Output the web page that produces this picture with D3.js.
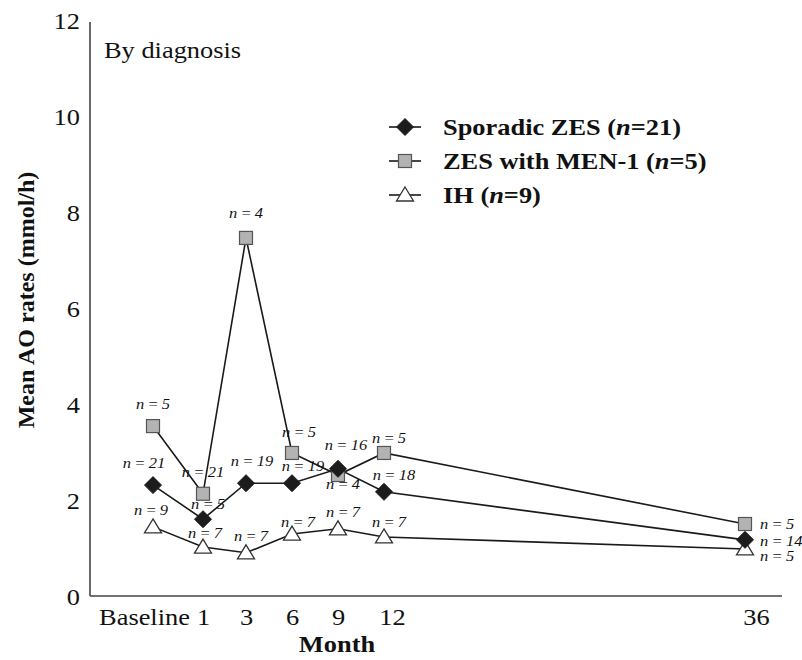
<!DOCTYPE html>
<html>
<head>
<meta charset="utf-8">
<script src="https://cdn.jsdelivr.net/npm/d3@7"></script>
<style>
  body { margin: 0; background: #fff; }
  svg { display: block; font-family: "Liberation Serif", "Times New Roman", serif; }
</style>
</head>
<body>
<div id="chart"></div>
<script>
// chart data
const months = [0, 1, 3, 6, 9, 12, 36];
const monthLabels = ["Baseline", "1", "3", "6", "9", "12", "36"];
const yTicks = [0, 2, 4, 6, 8, 10, 12];

const sporadicValues = [2.31, 1.60, 2.35, 2.35, 2.65, 2.17, 1.17];
const sporadicN = [21, 21, 19, 19, 16, 18, 14];
const men1Values = [3.54, 2.13, 7.46, 2.98, 2.52, 2.98, 1.50];
const men1N = [5, 5, 4, 5, 4, 5, 5];
const ihValues = [1.44, 1.02, 0.90, 1.29, 1.40, 1.23, 0.98];
const ihN = [9, 7, 7, 7, 7, 7, 5];

const series = [
    { key: "men1", name: "ZES with MEN-1", total: 5, values: men1Values, n: men1N, shape: "square" },
    { key: "ih", name: "IH", total: 9, values: ihValues, n: ihN, shape: "triangle" },
    { key: "sporadic", name: "Sporadic ZES", total: 21, values: sporadicValues, n: sporadicN, shape: "diamond" }
];
const legendOrder = ["sporadic", "men1", "ih"];

const W = 802, H = 660;
const SX = 1.1; // the source figure is a bit stretched horizontally
const FONT = '"Liberation Serif", "Times New Roman", serif';

// month axis of the original is not uniform, so a piecewise scale
const x = d3.scaleLinear()
    .domain(months)
    .range([153, 203, 246, 292, 338, 384, 745]);
const y = d3.scaleLinear().domain([0, 12]).range([596, 20]);

const svg = d3.select("#chart").append("svg")
    .attr("width", W).attr("height", H)
    .attr("font-family", FONT);

function txt(g, px, py, str, size, opts = {}) {
    return g.append("text")
        .attr("transform", `translate(${px},${py}) scale(${SX},1)`)
        .attr("text-anchor", opts.anchor || "start")
        .attr("font-family", FONT)
        .attr("font-size", size)
        .attr("font-weight", opts.bold ? "bold" : null)
        .attr("font-style", opts.italic ? "italic" : null)
        .attr("fill", "#111")
        .text(str);
}

// axes
const axisLine = svg.append("g").attr("stroke", "#444").attr("stroke-width", 1.6);
axisLine.append("line").attr("x1", 90).attr("x2", 90).attr("y1", y(12) + 2).attr("y2", y(0));
axisLine.append("line").attr("x1", 90).attr("x2", 782).attr("y1", y(0)).attr("y2", y(0));

const yAxis = svg.append("g")
    .attr("transform", "translate(90,0)")
    .call(d3.axisLeft(y).tickValues(yTicks).tickSize(0).tickPadding(10));
yAxis.select(".domain").remove();
yAxis.selectAll("text").remove();
yAxis.selectAll(".tick").each(function (d) {
    txt(d3.select(this), -10, 8, d, 24, { anchor: "end" });
});

const tickNudge = { 0: -9, 12: 8, 36: 11 };
const xAxis = svg.append("g")
    .attr("transform", `translate(0,${y(0)})`)
    .call(d3.axisBottom(x).tickValues(months).tickSize(0));
xAxis.select(".domain").remove();
xAxis.selectAll("text").remove();
xAxis.selectAll(".tick").each(function (d, i) {
    txt(d3.select(this), tickNudge[d] || 0, 29, monthLabels[i], 24, { anchor: "middle" });
});

txt(svg, 337, 652, "Month", 24, { anchor: "middle", bold: true });
svg.append("text")
    .attr("transform", "translate(34,300) rotate(-90)")
    .attr("text-anchor", "middle")
    .attr("font-size", 24)
    .attr("font-weight", "bold")
    .attr("fill", "#111")
    .text("Mean AO rates (mmol/h)");

txt(svg, 104, 58, "By diagnosis", 24);

// markers
function drawMarker(g, shape) {
    if (shape === "diamond") {
        g.append("path").attr("d", "M0,-8.5L8.5,0L0,8.5L-8.5,0Z")
            .attr("fill", "#1c1c1c").attr("stroke", "#1c1c1c").attr("stroke-width", 1);
    } else if (shape === "square") {
        g.append("rect").attr("x", -6.5).attr("y", -6.5).attr("width", 13).attr("height", 13)
            .attr("fill", "#b3b3b3").attr("stroke", "#555").attr("stroke-width", 1.2);
    } else {
        g.append("path").attr("d", "M0,-8L8.5,6L-8.5,6Z")
            .attr("fill", "#fff").attr("stroke", "#333").attr("stroke-width", 1.3);
    }
}

const line = d3.line().x((d, i) => x(months[i])).y(d => y(d));

svg.append("g").selectAll("path")
    .data(series)
    .join("path")
    .attr("d", s => line(s.values))
    .attr("fill", "none")
    .attr("stroke", "#1a1a1a")
    .attr("stroke-width", 1.6);

series.forEach(s => {
    svg.append("g").selectAll("g")
        .data(s.values)
        .join("g")
        .attr("transform", (d, i) => `translate(${x(months[i])},${y(d)})`)
        .each(function () { drawMarker(d3.select(this), s.shape); });
});

// n labels, small nudges where the original moved them off the point
const labelNudge = {
    "sporadic-0": [-9, -22], "sporadic-1": [0, -47], "sporadic-3": [6, -22],
    "sporadic-6": [11, -17], "sporadic-9": [8, -24], "sporadic-12": [10, -17],
    "men1-0": [0, -22], "men1-1": [5, 10], "men1-3": [0, -25], "men1-6": [7, -21],
    "men1-9": [5, 9], "men1-12": [5, -15],
    "ih-0": [-2, -17], "ih-1": [2, -14], "ih-6": [6, -12], "ih-12": [5, -15],
    "sporadic-36": [15, 1], "men1-36": [15, 0], "ih-36": [15, 7]
};
const labels = svg.append("g");
series.forEach(s => {
    s.values.forEach((v, i) => {
        const m = months[i];
        const nd = labelNudge[`${s.key}-${m}`] || [5, -17];
        txt(labels, x(m) + nd[0], y(v) + nd[1] + 5, `n\u2009=\u2009${s.n[i]}`, 15,
            { anchor: m === 36 ? "start" : "middle", italic: true });
    });
});

// legend
const legend = svg.append("g");
legendOrder.forEach((k, i) => {
    const s = series.find(d => d.key === k);
    const ly = 127 + i * 34;
    legend.append("line").attr("x1", 389).attr("x2", 421).attr("y1", ly).attr("y2", ly)
        .attr("stroke", "#1a1a1a").attr("stroke-width", 1.6);
    drawMarker(legend.append("g").attr("transform", `translate(405,${ly})`), s.shape);
    const t = txt(legend, 443, ly + 8, "", 24, { bold: true });
    t.append("tspan").text(`${s.name} (`);
    t.append("tspan").attr("font-style", "italic").text("n");
    t.append("tspan").text(`=${s.total})`);
});
</script>
</body>
</html>
